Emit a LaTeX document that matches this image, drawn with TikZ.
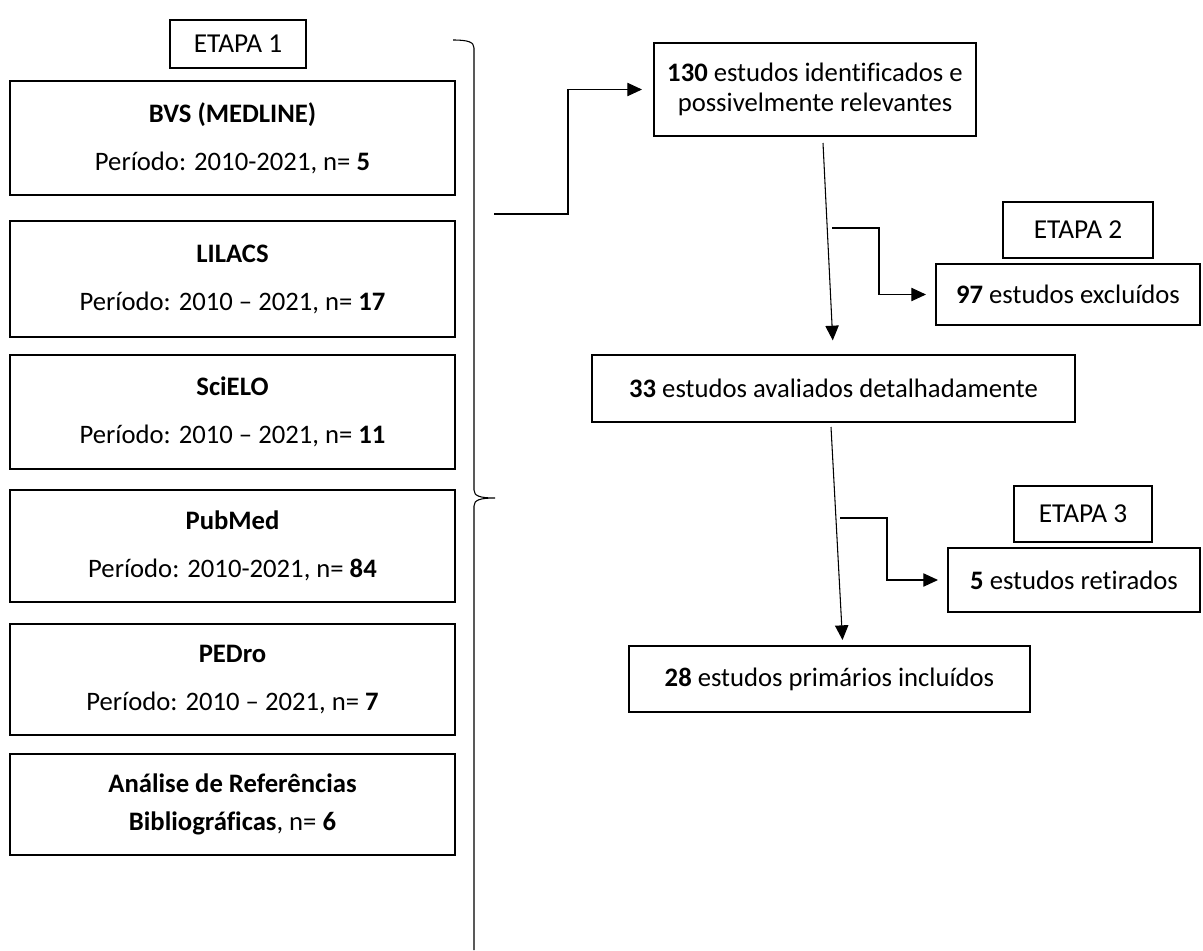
\documentclass[tikz,border=0pt]{standalone}
\usepackage{fontspec}
\setmainfont{Carlito}[Ligatures={TeX,NoCommon}]
\usetikzlibrary{arrows.meta}

\begin{document}
\begin{tikzpicture}[x=0.75pt,y=-0.75pt,>={Triangle[length=11pt,width=10pt]},
                line width=0.8pt,
                base node/.style={rectangle,draw,line width=1.3pt,inner sep=0pt,outer sep=0pt,align=center,
                        font=\fontsize{20}{24}\selectfont},
                etapa node/.style={base node,font=\fontsize{20.5}{24}\selectfont}]
                \useasboundingbox (0,0) rectangle (1203,950);
                
                % etapa 1: bases de dados
                \node[etapa node,minimum width=102pt,minimum height=36pt] (e1) at (238,44) {ETAPA 1};
                \node[base node,minimum width=333.75pt,minimum height=85.5pt] (bvs) at (232.5,138)
                        {\textbf{BVS (MEDLINE)}\\[12pt]Período: 2010-2021, n= \textbf{5}};
                \node[base node,minimum width=333.75pt,minimum height=87pt] (lilacs) at (232.5,279)
                        {\textbf{LILACS}\\[12pt]Período: 2010 – 2021, n= \textbf{17}};
                \node[base node,minimum width=333.75pt,minimum height=85.5pt] (scielo) at (232.5,412)
                        {\textbf{SciELO}\\[12pt]Período: 2010 – 2021, n= \textbf{11}};
                \node[base node,minimum width=333.75pt,minimum height=84pt] (pubmed) at (232.5,546)
                        {\textbf{PubMed}\\[12pt]Período: 2010-2021, n= \textbf{84}};
                \node[base node,minimum width=333.75pt,minimum height=83.25pt] (pedro) at (232.5,679.5)
                        {\textbf{PEDro}\\[12pt]Período: 2010 – 2021, n= \textbf{7}};
                \node[base node,minimum width=333.75pt,minimum height=75.75pt] (analise) at (232.5,804.5)
                        {\textbf{Análise de Referências}\\[4.5pt]\textbf{Bibliográficas}, n= \textbf{6}};
                
                % chave
                \draw (453,40) .. controls (468,40) and (474,42) .. (474,48) -- (474,490)
                        .. controls (474,496) and (480,498) .. (495,498)
                        .. controls (480,498) and (474,500) .. (474,506) -- (474,950);
                
                % resultados
                \node[base node,minimum width=241.5pt,minimum height=69.75pt,
                        font=\fontsize{20}{22}\selectfont] (n130) at (815,89.5)
                        {\textbf{130} estudos identificados e\\possivelmente relevantes};
                \node[etapa node,minimum width=112.5pt,minimum height=42pt] (e2) at (1078,230) {ETAPA 2};
                \node[base node,minimum width=198pt,minimum height=45.75pt] (n97) at (1068,294.5)
                        {\textbf{97} estudos excluídos};
                \node[base node,minimum width=362.25pt,minimum height=50.25pt] (n33) at (833.5,388.5)
                        {\textbf{33} estudos avaliados detalhadamente};
                \node[etapa node,minimum width=103.5pt,minimum height=42pt] (e3) at (1083,514) {ETAPA 3};
                \node[base node,minimum width=189pt,minimum height=48pt] (n5) at (1074,580)
                        {\textbf{5} estudos retirados};
                \node[base node,minimum width=300.75pt,minimum height=49.5pt] (n28) at (829.5,679)
                        {\textbf{28} estudos primários incluídos};
                
                \coordinate (chave) at (494,214);
                \coordinate (s1) at (823,143);
                \coordinate (c1) at (832,228);
                \coordinate (s2) at (831,427);
                \coordinate (c2) at (840,518);
                
                \draw[->,shorten >=9pt] (chave) -- (568,214) |- (n130.west);
                \draw[->,shorten >=11pt] (s1) -- (n33.north);
                \draw[->,shorten >=7.5pt] (c1) -- (879,228) |- (n97.west);
                \draw[->,shorten >=4.5pt] (s2) -- ([xshift=10]n28.north);
                \draw[->,shorten >=7.5pt] (c2) -- (887,518) |- (n5.west);
\end{tikzpicture}
\end{document}
